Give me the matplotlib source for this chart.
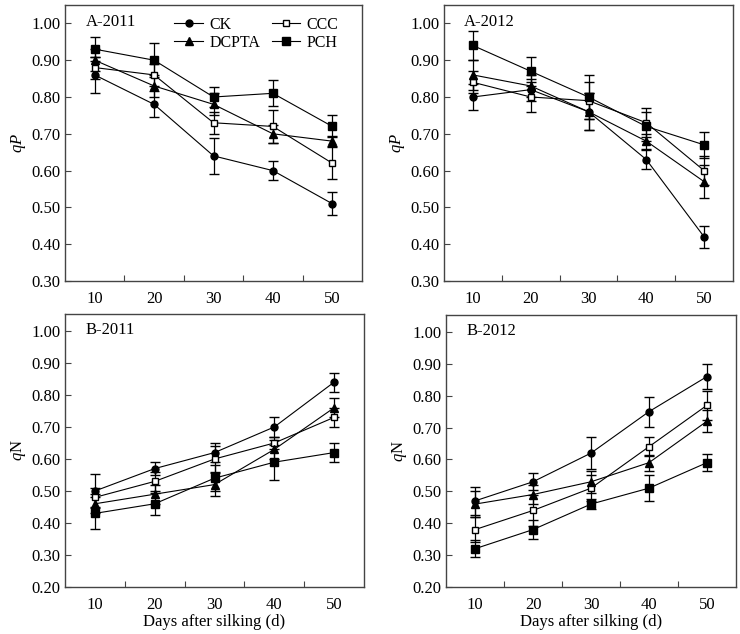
import numpy as np
import matplotlib.pyplot as plt
from matplotlib.ticker import FixedLocator
from matplotlib.lines import Line2D

plt.rcParams['font.family'] = ['Liberation Serif', 'DejaVu Serif']
plt.rcParams['mathtext.fontset'] = 'custom'
plt.rcParams['mathtext.it'] = 'Liberation Serif:italic'
plt.rcParams['mathtext.rm'] = 'Liberation Serif'

days = [10, 20, 30, 40, 50]
treatments = ['CK', 'CCC', 'DCPTA', 'PCH']

# A-2011 (qP)
a11_ck = [0.86, 0.78, 0.64, 0.60, 0.51]
a11_ccc = [0.88, 0.86, 0.73, 0.72, 0.62]
a11_dcpta = [0.90, 0.83, 0.78, 0.70, 0.68]
a11_pch = [0.93, 0.90, 0.80, 0.81, 0.72]
a11_ck_err = [0.05, 0.035, 0.048, 0.025, 0.032]
a11_ccc_err = [0.03, 0.03, 0.03, 0.045, 0.043]
a11_dcpta_err = [0.03, 0.03, 0.03, 0.025, 0.013]
a11_pch_err = [0.032, 0.046, 0.028, 0.035, 0.03]

# A-2012 (qP)
a12_ck = [0.80, 0.82, 0.76, 0.63, 0.42]
a12_ccc = [0.84, 0.80, 0.79, 0.73, 0.60]
a12_dcpta = [0.86, 0.83, 0.76, 0.68, 0.57]
a12_pch = [0.94, 0.87, 0.80, 0.72, 0.67]
a12_ck_err = [0.035, 0.03, 0.05, 0.025, 0.03]
a12_ccc_err = [0.03, 0.04, 0.05, 0.04, 0.04]
a12_dcpta_err = [0.04, 0.03, 0.05, 0.02, 0.045]
a12_pch_err = [0.04, 0.04, 0.06, 0.04, 0.035]

# B-2011 (qN)
b11_ck = [0.50, 0.57, 0.62, 0.70, 0.84]
b11_ccc = [0.48, 0.53, 0.60, 0.65, 0.73]
b11_dcpta = [0.46, 0.49, 0.52, 0.63, 0.76]
b11_pch = [0.43, 0.46, 0.54, 0.59, 0.62]
b11_ck_err = [0.053, 0.02, 0.03, 0.03, 0.03]
b11_ccc_err = [0.03, 0.03, 0.04, 0.02, 0.03]
b11_dcpta_err = [0.03, 0.03, 0.035, 0.03, 0.03]
b11_pch_err = [0.05, 0.035, 0.04, 0.055, 0.03]

# B-2012 (qN)
b12_ck = [0.47, 0.53, 0.62, 0.75, 0.86]
b12_ccc = [0.38, 0.44, 0.51, 0.64, 0.77]
b12_dcpta = [0.46, 0.49, 0.53, 0.59, 0.72]
b12_pch = [0.32, 0.38, 0.46, 0.51, 0.59]
b12_ck_err = [0.045, 0.027, 0.05, 0.047, 0.04]
b12_ccc_err = [0.04, 0.05, 0.04, 0.03, 0.045]
b12_dcpta_err = [0.04, 0.03, 0.035, 0.025, 0.035]
b12_pch_err = [0.027, 0.03, 0.015, 0.04, 0.027]

markers = {'CK': ('o', 'black'), 'CCC': ('s', 'white'),
           'DCPTA': ('^', 'black'), 'PCH': ('s', 'black')}
msizes = {'CK': 5, 'CCC': 4.5, 'DCPTA': 5.5, 'PCH': 5.5}

fig = plt.figure(figsize=(7.4, 6.34), dpi=100)
W, H = 740, 634

def make_ax(l, r, t, b):
    return fig.add_axes([l / W, 1 - b / H, (r - l) / W, (b - t) / H])

panels = [
    (make_ax(65, 362, 5, 281), 'A-2011', [a11_ck, a11_ccc, a11_dcpta, a11_pch],
     [a11_ck_err, a11_ccc_err, a11_dcpta_err, a11_pch_err], (0.30, 1.05), 0.30, r'$\it{qP}$', False),
    (make_ax(444, 733, 5, 281), 'A-2012', [a12_ck, a12_ccc, a12_dcpta, a12_pch],
     [a12_ck_err, a12_ccc_err, a12_dcpta_err, a12_pch_err], (0.30, 1.05), 0.30, r'$\it{qP}$', False),
    (make_ax(65, 364, 314, 587), 'B-2011', [b11_ck, b11_ccc, b11_dcpta, b11_pch],
     [b11_ck_err, b11_ccc_err, b11_dcpta_err, b11_pch_err], (0.20, 1.053), 0.20, r'$\it{q}$N', True),
    (make_ax(446, 736, 315, 587), 'B-2012', [b12_ck, b12_ccc, b12_dcpta, b12_pch],
     [b12_ck_err, b12_ccc_err, b12_dcpta_err, b12_pch_err], (0.20, 1.053), 0.20, r'$\it{q}$N', True),
]

x = np.arange(len(days))
for ax, title, series, errs, ylim, ymin, ylab, bottom in panels:
    for name, vals, err in zip(treatments, series, errs):
        m, fc = markers[name]
        ax.errorbar(x, vals, yerr=err, color='black', lw=0.8, marker=m,
                    markersize=msizes[name], markerfacecolor=fc,
                    markeredgecolor='black', markeredgewidth=1.0,
                    elinewidth=0.9, capsize=3.5, capthick=0.9)
    ax.set_xlim(-0.5, len(days) - 0.5)
    ax.set_ylim(*ylim)
    ax.set_xticks(x)
    ax.set_xticklabels([str(d) for d in days], fontsize=12)
    ax.xaxis.set_minor_locator(FixedLocator(x[:-1] + 0.5))
    ax.tick_params(axis='x', which='major', length=0, pad=7)
    ax.tick_params(axis='x', which='minor', direction='in', length=4, width=0.8, color='#444444')
    ax.set_yticks(np.arange(ymin, 1.001, 0.1))
    ax.set_yticklabels(['%.2f' % v for v in np.arange(ymin, 1.001, 0.1)], fontsize=12)
    ax.tick_params(axis='y', direction='in', length=4, width=0.8, color='#444444')
    for s in ax.spines.values():
        s.set_color('#444444')
        s.set_linewidth(1.0)
    ax.set_ylabel(ylab, fontsize=12, labelpad=2)
    ax.text(0.07, 0.94, title, transform=ax.transAxes, fontsize=12, va='center')
    if bottom:
        ax.set_xlabel('Days after silking (d)', fontsize=12, labelpad=1)

# legend laid out row-wise: CK, CCC / DCPTA, PCH
order = ['CK', 'DCPTA', 'CCC', 'PCH']
handles = []
for name in order:
    m, fc = markers[name]
    handles.append(Line2D([], [], color='black', lw=0.8, marker=m, markersize=msizes[name],
                          markerfacecolor=fc, markeredgecolor='black', markeredgewidth=1.0))
leg_ax = panels[0][0]
leg_ax.legend(handles, order, ncol=2, loc='upper left', bbox_to_anchor=(0.32, 1.01),
              frameon=False, fontsize=11.5, handlelength=1.8, handletextpad=0.4,
              columnspacing=0.7, labelspacing=0.15)

plt.savefig('out.png', dpi=100)
